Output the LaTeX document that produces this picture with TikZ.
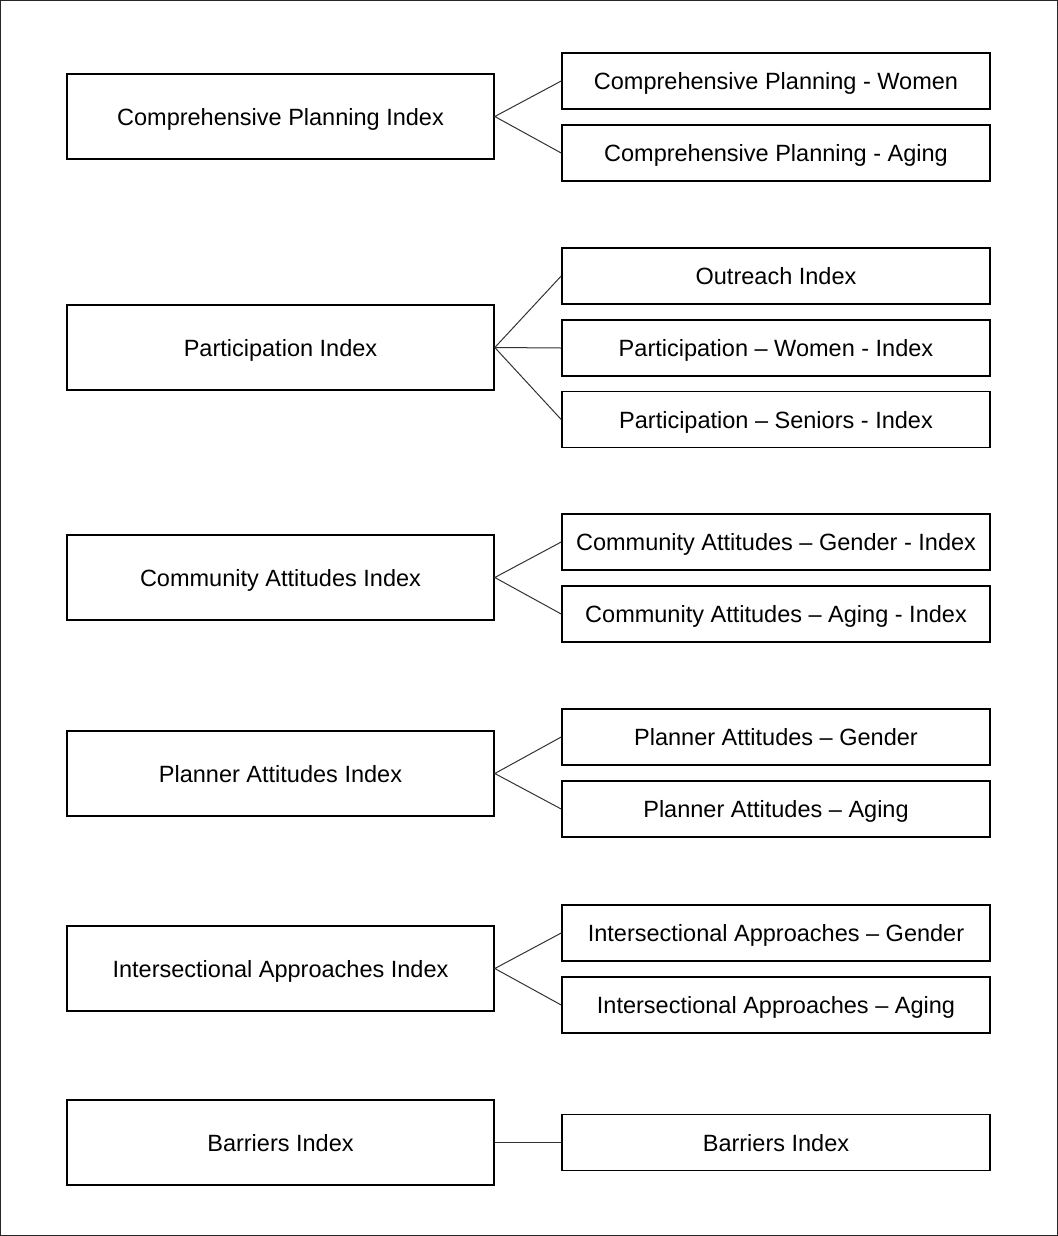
\documentclass[tikz,border=0pt]{standalone}
\usepackage{fontspec}
\setmainfont{Liberation Sans}

\begin{document}
\begin{tikzpicture}[x=1bp,y=-1bp]
            \tikzstyle{every node}=[font=\fontsize{23.6}{28}\selectfont]
            \tikzstyle{indexBox}=[draw,line width=1.6bp,minimum width=427bp,minimum height=85bp,inner sep=0pt,text height=18bp,text depth=0.6bp]
            \tikzstyle{subBox}=[draw,line width=1.6bp,minimum width=428bp,minimum height=56bp,inner sep=0pt,text height=18bp,text depth=0.6bp]
            \tikzstyle{link}=[line width=1bp,black!80]

            \draw[line width=1bp,black!85] (0.5,0.5) rectangle (1057.5,1235.5);

            % left column
            \node[indexBox] (compIdx) at (280.5,116.5) {Comprehensive Planning Index};
            \node[indexBox] (partIdx) at (280.5,347.5) {Participation Index};
            \node[indexBox] (commIdx) at (280.5,577.5) {Community Attitudes Index};
            \node[indexBox] (planIdx) at (280.5,773.5) {Planner Attitudes Index};
            \node[indexBox] (interIdx) at (280.5,968.5) {Intersectional Approaches Index};
            \node[indexBox] (barIdx) at (280.5,1142.5) {Barriers Index};

            % right column
            \node[subBox] (compWomen) at (776,81) {Comprehensive Planning - Women};
            \node[subBox] (compAging) at (776,153) {Comprehensive Planning - Aging};
            \node[subBox] (outreach) at (776,276) {Outreach Index};
            \node[subBox] (partWomen) at (776,348) {Participation -- Women - Index};
            \node[subBox] (partSeniors) at (776,419.5) {Participation -- Seniors - Index};
            \node[subBox] (commGender) at (776,542) {Community Attitudes -- Gender - Index};
            \node[subBox] (commAging) at (776,614) {Community Attitudes -- Aging - Index};
            \node[subBox] (planGender) at (776,737) {Planner Attitudes -- Gender};
            \node[subBox] (planAging) at (776,809) {Planner Attitudes -- Aging};
            \node[subBox] (interGender) at (776,933) {Intersectional Approaches -- Gender};
            \node[subBox] (interAging) at (776,1005) {Intersectional Approaches -- Aging};
            \node[subBox] (barSub) at (776,1142.5) {Barriers Index};

            \draw[link] (compWomen.west) -- (compIdx.east) -- (compAging.west);
            \draw[link] (outreach.west) -- (partIdx.east) -- (partSeniors.west);
            \draw[link] (partIdx.east) -- (partWomen.west);
            \draw[link] (commGender.west) -- (commIdx.east) -- (commAging.west);
            \draw[link] (planGender.west) -- (planIdx.east) -- (planAging.west);
            \draw[link] (interGender.west) -- (interIdx.east) -- (interAging.west);
            \draw[link] (barIdx.east) -- (barSub.west);
        \end{tikzpicture}
\end{document}
